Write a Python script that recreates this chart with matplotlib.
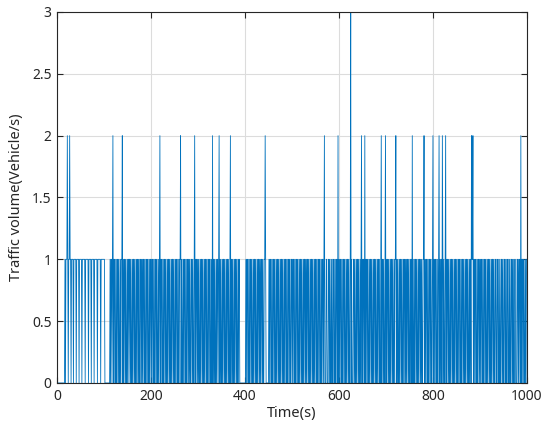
import numpy as np
import matplotlib
matplotlib.use('Agg')
import matplotlib.pyplot as plt

# traffic volume per second (one digit = one second)
seg_000 = ("00000000000000000" "1011121011" "2110" "1111" "0" "11111" "0" "11111" "0"
           "11111" "0" "111111" "0" "111111" "0" "11111" "0" "11111" "0" "111111" "0"
           "111111" "0" "111111")
seg_100 = ("11" "00000000000" "101101" "2" "0110100101101001011" "2"
           "0101101001" "0110110100" "1011010010" "1101010011" "0101101001" "0110100101")
seg_200 = ("1011010010" "110100101" "2" "0110100101" "1010010110" "1001011010" "0101101001" "011"
           "2" "0100101101" "0010110101" "001101001" "2" "010110")
seg_300 = ("1010010110" "1001011010" "0101101001" "0" "2" "0110100101101" "2"
           "0101001011" "0100101101" "001" "2" "0110100101" "1010010110" "0000000000")
seg_400 = ("00" "1011010010" "1101001011" "0100101101" "0101101001" "1" "2" "10000001"
           "0110100101" "1010010110" "1001011010" "0101101001" "01101001")
seg_500 = ("1011010010" "1101001011" "0100101101" "0101101001" "0110100101" "1010010110"
           "100101101" "2" "0001100011" "0100100110" "10010110" "2" "0")
seg_600 = ("1011010010" "1101001011" "01001" "3" "0100011010" "0101101001" "01" "2"
           "010110" "2" "0101101001" "0110100101" "1010010110" "1001" "2" "01101001" "2")
seg_700 = ("0101101001" "0110100101" "1" "2" "0101001011" "0100101101" "0101101001" "0110"
           "2" "0100101101" "0010110101" "0011" "2" "0101101001" "01101001")
seg_800 = ("2" "010110100101" "2" "010110" "2" "101001" "2"
           "0101101001" "0110100101" "1010010110" "1001011010" "0101101001" "0110"
           "2" "11" "2" "0101101001" "0110")
seg_900 = ("1011010010" "1101001011" "0100101101" "0011001101" "0010011010" "0110100101"
           "1001001101" "0100110001" "1010110" "2" "010110100101")

segments = [seg_000, seg_100, seg_200, seg_300, seg_400,
            seg_500, seg_600, seg_700, seg_800, seg_900]
print([len(s) for s in segments])

volume = np.array([int(c) for c in "".join(segments)])
time_s = np.arange(len(volume))

x_ticks = [0, 200, 400, 600, 800, 1000]
y_ticks = [0, 0.5, 1, 1.5, 2, 2.5, 3]

plt.rcParams['font.family'] = ['Noto Sans', 'DejaVu Sans']

fig = plt.figure(figsize=(5.5, 4.44), dpi=100)
ax = fig.add_axes([0.1036, 0.1374, 0.8545, 0.8356])

ax.plot(time_s, volume, color='#0072BD', lw=0.6)

ax.set_xlim(0, 1000)
ax.set_ylim(0, 3)
ax.set_xticks(x_ticks)
ax.set_yticks(y_ticks)
ax.set_yticklabels(['0', '0.5', '1', '1.5', '2', '2.5', '3'])
ax.grid(True, color='#dcdcdc', lw=0.8)
ax.set_axisbelow(True)
ax.tick_params(direction='in', top=True, right=True, length=4, width=0.8,
               colors='#262626', labelsize=10, pad=4)
for sp in ax.spines.values():
    sp.set_color('#262626')
    sp.set_linewidth(0.8)

ax.set_xlabel('Time(s)', fontsize=10.5, color='#262626', labelpad=2)
ax.set_ylabel('Traffic volume(Vehicle/s)', fontsize=10.5, color='#262626', labelpad=6)

fig.savefig('out.png', dpi=100)
